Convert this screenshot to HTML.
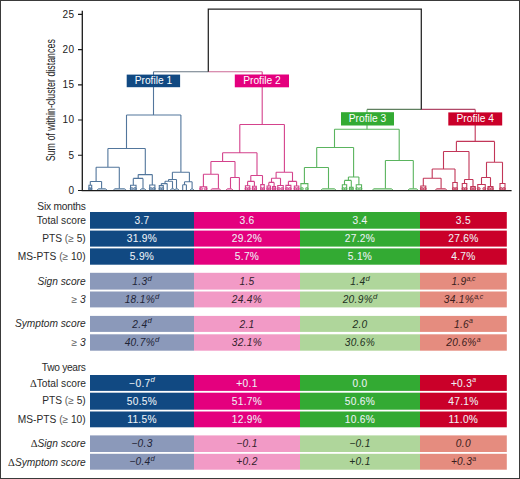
<!DOCTYPE html>
<html><head><meta charset="utf-8"><style>
html,body{margin:0;padding:0;background:#fff;width:520px;height:479px;overflow:hidden}
svg{display:block}
</style></head><body>
<svg width="520" height="479" viewBox="0 0 520 479" font-family="'Liberation Sans', sans-serif">
<rect x="0" y="0" width="520" height="479" fill="#fff"/>
<ellipse cx="89.51" cy="188.80" rx="0.87" ry="1.3" fill="#52769c" fill-opacity="0.55" stroke="#52769c" stroke-width="0.7"/><ellipse cx="91.09" cy="188.80" rx="0.87" ry="1.3" fill="#52769c" fill-opacity="0.55" stroke="#52769c" stroke-width="0.7"/><path d="M97 190.0L98.60 188.5H105.40L107 190.0Z" fill="#52769c" fill-opacity="0.2" stroke="#52769c" stroke-width="0.8" stroke-opacity="0.9"/><path d="M113.4 190.0L115.00 188.5H124.50L126.1 190.0Z" fill="#52769c" fill-opacity="0.2" stroke="#52769c" stroke-width="0.8" stroke-opacity="0.9"/><ellipse cx="131.60" cy="188.80" rx="1.50" ry="1.3" fill="#52769c" fill-opacity="0.55" stroke="#52769c" stroke-width="0.7"/><ellipse cx="135.00" cy="188.80" rx="1.50" ry="1.3" fill="#52769c" fill-opacity="0.55" stroke="#52769c" stroke-width="0.7"/><path d="M140 190.0L141.60 188.5H144.40L146 190.0Z" fill="#52769c" fill-opacity="0.2" stroke="#52769c" stroke-width="0.8" stroke-opacity="0.9"/><ellipse cx="150.75" cy="188.80" rx="1.50" ry="1.3" fill="#52769c" fill-opacity="0.55" stroke="#52769c" stroke-width="0.7"/><ellipse cx="153.85" cy="188.80" rx="1.50" ry="1.3" fill="#52769c" fill-opacity="0.55" stroke="#52769c" stroke-width="0.7"/><ellipse cx="160.18" cy="188.80" rx="1.25" ry="1.3" fill="#52769c" fill-opacity="0.55" stroke="#52769c" stroke-width="0.7"/><ellipse cx="162.43" cy="188.80" rx="1.25" ry="1.3" fill="#52769c" fill-opacity="0.55" stroke="#52769c" stroke-width="0.7"/><path d="M170.2 190.0L171.80 188.5H173.40L175 190.0Z" fill="#52769c" fill-opacity="0.2" stroke="#52769c" stroke-width="0.8" stroke-opacity="0.9"/><path d="M174.5 190.0L176.10 188.5H177.40L179 190.0Z" fill="#52769c" fill-opacity="0.2" stroke="#52769c" stroke-width="0.8" stroke-opacity="0.9"/><path d="M190 190.0L191.60 188.5H192.40L194 190.0Z" fill="#52769c" fill-opacity="0.2" stroke="#52769c" stroke-width="0.8" stroke-opacity="0.9"/><ellipse cx="201.15" cy="188.80" rx="1.50" ry="1.3" fill="#d4428c" fill-opacity="0.55" stroke="#d4428c" stroke-width="0.7"/><ellipse cx="205.65" cy="188.80" rx="1.50" ry="1.3" fill="#d4428c" fill-opacity="0.55" stroke="#d4428c" stroke-width="0.7"/><path d="M210.6 190.0L212.20 188.5H219.10L220.7 190.0Z" fill="#d4428c" fill-opacity="0.2" stroke="#d4428c" stroke-width="0.8" stroke-opacity="0.9"/><path d="M226 190.0L227.60 188.5H231.40L233 190.0Z" fill="#d4428c" fill-opacity="0.2" stroke="#d4428c" stroke-width="0.8" stroke-opacity="0.9"/><ellipse cx="246.36" cy="188.80" rx="1.38" ry="1.3" fill="#d4428c" fill-opacity="0.55" stroke="#d4428c" stroke-width="0.7"/><ellipse cx="248.84" cy="188.80" rx="1.38" ry="1.3" fill="#d4428c" fill-opacity="0.55" stroke="#d4428c" stroke-width="0.7"/><ellipse cx="253.33" cy="188.80" rx="1.19" ry="1.3" fill="#d4428c" fill-opacity="0.55" stroke="#d4428c" stroke-width="0.7"/><ellipse cx="255.47" cy="188.80" rx="1.19" ry="1.3" fill="#d4428c" fill-opacity="0.55" stroke="#d4428c" stroke-width="0.7"/><ellipse cx="261.52" cy="188.80" rx="1.09" ry="1.3" fill="#d4428c" fill-opacity="0.55" stroke="#d4428c" stroke-width="0.7"/><ellipse cx="263.48" cy="188.80" rx="1.09" ry="1.3" fill="#d4428c" fill-opacity="0.55" stroke="#d4428c" stroke-width="0.7"/><ellipse cx="267.82" cy="188.80" rx="1.09" ry="1.3" fill="#d4428c" fill-opacity="0.55" stroke="#d4428c" stroke-width="0.7"/><ellipse cx="269.78" cy="188.80" rx="1.09" ry="1.3" fill="#d4428c" fill-opacity="0.55" stroke="#d4428c" stroke-width="0.7"/><ellipse cx="273.26" cy="188.80" rx="0.94" ry="1.3" fill="#d4428c" fill-opacity="0.55" stroke="#d4428c" stroke-width="0.7"/><ellipse cx="274.94" cy="188.80" rx="0.94" ry="1.3" fill="#d4428c" fill-opacity="0.55" stroke="#d4428c" stroke-width="0.7"/><ellipse cx="278.80" cy="188.80" rx="1.50" ry="1.3" fill="#d4428c" fill-opacity="0.55" stroke="#d4428c" stroke-width="0.7"/><ellipse cx="282.20" cy="188.80" rx="1.50" ry="1.3" fill="#d4428c" fill-opacity="0.55" stroke="#d4428c" stroke-width="0.7"/><ellipse cx="286.95" cy="188.80" rx="1.50" ry="1.3" fill="#d4428c" fill-opacity="0.55" stroke="#d4428c" stroke-width="0.7"/><ellipse cx="289.85" cy="188.80" rx="1.50" ry="1.3" fill="#d4428c" fill-opacity="0.55" stroke="#d4428c" stroke-width="0.7"/><ellipse cx="295.33" cy="188.80" rx="1.41" ry="1.3" fill="#d4428c" fill-opacity="0.55" stroke="#d4428c" stroke-width="0.7"/><ellipse cx="297.87" cy="188.80" rx="1.41" ry="1.3" fill="#d4428c" fill-opacity="0.55" stroke="#d4428c" stroke-width="0.7"/><ellipse cx="301.95" cy="188.80" rx="1.50" ry="1.3" fill="#5ab45e" fill-opacity="0.55" stroke="#5ab45e" stroke-width="0.7"/><ellipse cx="306.85" cy="188.80" rx="1.50" ry="1.3" fill="#5ab45e" fill-opacity="0.55" stroke="#5ab45e" stroke-width="0.7"/><path d="M321 190.0L322.60 188.5H334.40L336 190.0Z" fill="#5ab45e" fill-opacity="0.2" stroke="#5ab45e" stroke-width="0.8" stroke-opacity="0.9"/><ellipse cx="343.29" cy="188.80" rx="1.34" ry="1.3" fill="#5ab45e" fill-opacity="0.55" stroke="#5ab45e" stroke-width="0.7"/><ellipse cx="345.71" cy="188.80" rx="1.34" ry="1.3" fill="#5ab45e" fill-opacity="0.55" stroke="#5ab45e" stroke-width="0.7"/><ellipse cx="350.32" cy="188.80" rx="1.09" ry="1.3" fill="#5ab45e" fill-opacity="0.55" stroke="#5ab45e" stroke-width="0.7"/><ellipse cx="352.28" cy="188.80" rx="1.09" ry="1.3" fill="#5ab45e" fill-opacity="0.55" stroke="#5ab45e" stroke-width="0.7"/><ellipse cx="357.30" cy="188.80" rx="1.50" ry="1.3" fill="#5ab45e" fill-opacity="0.55" stroke="#5ab45e" stroke-width="0.7"/><ellipse cx="360.50" cy="188.80" rx="1.50" ry="1.3" fill="#5ab45e" fill-opacity="0.55" stroke="#5ab45e" stroke-width="0.7"/><path d="M372.4 190.0L374.00 188.5H391.40L393 190.0Z" fill="#5ab45e" fill-opacity="0.2" stroke="#5ab45e" stroke-width="0.8" stroke-opacity="0.9"/><path d="M408 190.0L409.60 188.5H416.40L418 190.0Z" fill="#5ab45e" fill-opacity="0.2" stroke="#5ab45e" stroke-width="0.8" stroke-opacity="0.9"/><ellipse cx="421.85" cy="188.80" rx="1.50" ry="1.3" fill="#c23658" fill-opacity="0.55" stroke="#c23658" stroke-width="0.7"/><ellipse cx="424.75" cy="188.80" rx="1.50" ry="1.3" fill="#c23658" fill-opacity="0.55" stroke="#c23658" stroke-width="0.7"/><path d="M435.3 190.0L436.90 188.5H445.20L446.8 190.0Z" fill="#c23658" fill-opacity="0.2" stroke="#c23658" stroke-width="0.8" stroke-opacity="0.9"/><ellipse cx="453.76" cy="188.80" rx="1.38" ry="1.3" fill="#c23658" fill-opacity="0.55" stroke="#c23658" stroke-width="0.7"/><ellipse cx="456.24" cy="188.80" rx="1.38" ry="1.3" fill="#c23658" fill-opacity="0.55" stroke="#c23658" stroke-width="0.7"/><ellipse cx="463.23" cy="188.80" rx="1.41" ry="1.3" fill="#c23658" fill-opacity="0.55" stroke="#c23658" stroke-width="0.7"/><ellipse cx="465.77" cy="188.80" rx="1.41" ry="1.3" fill="#c23658" fill-opacity="0.55" stroke="#c23658" stroke-width="0.7"/><ellipse cx="471.73" cy="188.80" rx="1.41" ry="1.3" fill="#c23658" fill-opacity="0.55" stroke="#c23658" stroke-width="0.7"/><ellipse cx="474.27" cy="188.80" rx="1.41" ry="1.3" fill="#c23658" fill-opacity="0.55" stroke="#c23658" stroke-width="0.7"/><ellipse cx="478.80" cy="188.80" rx="1.50" ry="1.3" fill="#c23658" fill-opacity="0.55" stroke="#c23658" stroke-width="0.7"/><ellipse cx="484.20" cy="188.80" rx="1.50" ry="1.3" fill="#c23658" fill-opacity="0.55" stroke="#c23658" stroke-width="0.7"/><ellipse cx="489.05" cy="188.80" rx="1.50" ry="1.3" fill="#c23658" fill-opacity="0.55" stroke="#c23658" stroke-width="0.7"/><ellipse cx="491.95" cy="188.80" rx="1.50" ry="1.3" fill="#c23658" fill-opacity="0.55" stroke="#c23658" stroke-width="0.7"/><ellipse cx="501.05" cy="188.80" rx="1.50" ry="1.3" fill="#c23658" fill-opacity="0.55" stroke="#c23658" stroke-width="0.7"/><ellipse cx="503.95" cy="188.80" rx="1.50" ry="1.3" fill="#c23658" fill-opacity="0.55" stroke="#c23658" stroke-width="0.7"/><path d="M126.5 115H180.9M126.5 115V148.5M107.9 148.5H145.3M107.9 148.5V167.3M96.1 167.3H119.3M96.1 167.3V181.5M90.3 181.5H101.6M90.3 181.5V185.2M88.90 190.0V185.2H91.70V190.0M101.6 181.5V188.5M119.3 167.3V188.5M145.3 148.5V174.6M138.2 174.6H152.3M138.2 174.6V178.4M133.3 178.4H143M133.3 178.4V185.2M130.55 190.0V185.2H136.05V190.0M143 178.4V188.5M152.3 174.6V185M149.70 190.0V185H154.90V190.0M180.9 115V172.3M172.4 172.3H189.4M172.4 172.3V179.5M168.5 179.5H176.5M168.5 179.5V181.3M165 181.3H172.5M165 181.3V183.6M161.3 183.6H167.2M161.3 183.6V185.6M159.30 190.0V185.6H163.30V190.0M167.2 183.6V190.0M172.5 181.3V188.5M176.5 179.5V188.5M189.4 172.3V181.8M184.5 181.8H192.1M184.5 181.8V184.8M182.7 184.8H186.4M182.7 184.8V190.0M186.4 184.8V190.0M192.1 181.8V188.5" stroke="#52769c" stroke-width="1.1" fill="none"/><path d="M239.8 124.5H284.4M239.8 124.5V152.7M222.6 152.7H257M222.6 152.7V161.5M210.9 161.5H235M210.9 161.5V174.2M203.4 174.2H218.4M203.4 174.2V186.7M200.10 190.0V186.7H206.70V190.0M218.4 174.2V188.5M235 161.5V177.5M230.5 177.5H239.4M230.5 177.5V188.5M239.4 177.5V190.0M257 152.7V175.5M250.8 175.5H262.5M250.8 175.5V181.4M247.6 181.4H254.4M247.6 181.4V185.8M245.40 190.0V185.8H249.80V190.0M254.4 181.4V186.3M252.50 190.0V186.3H256.30V190.0M262.5 175.5V184.6M260.75 190.0V184.6H264.25V190.0M284.4 124.5V172.3M276.1 172.3H292.5M276.1 172.3V178.3M271.5 178.3H280.5M271.5 178.3V182.4M268.8 182.4H274.1M268.8 182.4V186M267.05 190.0V186H270.55V190.0M274.1 182.4V186.5M272.60 190.0V186.5H275.60V190.0M280.5 178.3V185.5M277.75 190.0V185.5H283.25V190.0M292.5 172.3V181.4M288.4 181.4H296.6M288.4 181.4V185.4M285.90 190.0V185.4H290.90V190.0M296.6 181.4V186M294.35 190.0V186H298.85V190.0" stroke="#d4428c" stroke-width="1.1" fill="none"/><path d="M334.5 129.3H399.2M334.5 129.3V147.5M316.7 147.5H353.6M316.7 147.5V167.5M304.4 167.5H328.5M304.4 167.5V183.6M300.90 190.0V183.6H307.90V190.0M328.5 167.5V188.5M353.6 147.5V177M348.4 177H358.9M348.4 177V180.4M344.5 180.4H351.3M344.5 180.4V184.7M342.35 190.0V184.7H346.65V190.0M351.3 180.4V187.2M349.55 190.0V187.2H353.05V190.0M358.9 177V184.7M356.25 190.0V184.7H361.55V190.0M399.2 129.3V160.5M385.4 160.5H413.3M385.4 160.5V188.5M413.3 160.5V188.5" stroke="#5ab45e" stroke-width="1.1" fill="none"/><path d="M456.4 141.4H494.5M456.4 141.4V151.5M443.5 151.5H469M443.5 151.5V169M432.2 169H455M432.2 169V178.3M423.3 178.3H441.1M423.3 178.3V186M420.80 190.0V186H425.80V190.0M441.1 178.3V188.5M455 169V182.5M452.80 190.0V182.5H457.20V190.0M469 151.5V179.5M464.5 179.5H473M464.5 179.5V183.5M462.25 190.0V183.5H466.75V190.0M473 179.5V186.5M470.75 190.0V186.5H475.25V190.0M494.5 141.4V162.3M486.5 162.3H502.5M486.5 162.3V177.5M481.5 177.5H490.5M481.5 177.5V184.5M477.75 190.0V184.5H485.25V190.0M490.5 177.5V186.5M488.00 190.0V186.5H493.00V190.0M502.5 162.3V183.5M500.00 190.0V183.5H505.00V190.0" stroke="#c23658" stroke-width="1.1" fill="none"/><path d="M153.5 71.7H208.3" stroke="#6a7784" stroke-width="1.1" fill="none"/><path d="M153.5 71.7V115" stroke="#52769c" stroke-width="1.1" fill="none"/><path d="M208.3 71.7H262.2" stroke="#cc6a96" stroke-width="1.1" fill="none"/><path d="M262.2 71.7V124.5" stroke="#d4428c" stroke-width="1.1" fill="none"/><path d="M367 109.4H421.3" stroke="#5f7f5f" stroke-width="1.1" fill="none"/><path d="M367 109.4V129.3" stroke="#5ab45e" stroke-width="1.1" fill="none"/><path d="M421.3 109.4H475.2" stroke="#b04868" stroke-width="1.1" fill="none"/><path d="M475.2 109.4V141.4" stroke="#c23658" stroke-width="1.1" fill="none"/><path d="M208.3 71.7V9.1H421.3V109.4" stroke="#222" stroke-width="1.25" fill="none"/>
<path d="M82.3 10.8V190.6H511.6" stroke="#1a1a1a" stroke-width="1.3" fill="none"/><text x="74.5" y="193.80" text-anchor="end" font-size="10" letter-spacing="0.4" fill="#222">0</text><text x="74.5" y="158.58" text-anchor="end" font-size="10" letter-spacing="0.4" fill="#222">5</text><text x="74.5" y="123.36" text-anchor="end" font-size="10" letter-spacing="0.4" fill="#222">10</text><text x="74.5" y="88.14" text-anchor="end" font-size="10" letter-spacing="0.4" fill="#222">15</text><text x="74.5" y="52.92" text-anchor="end" font-size="10" letter-spacing="0.4" fill="#222">20</text><text x="74.5" y="17.70" text-anchor="end" font-size="10" letter-spacing="0.4" fill="#222">25</text><path d="M78 190.50H82.3M78 155.28H82.3M78 120.06H82.3M78 84.84H82.3M78 49.62H82.3M78 14.40H82.3" stroke="#1a1a1a" stroke-width="1.1" fill="none"/><text transform="translate(54.9 161.3) rotate(-90) scale(0.7156 1)" font-size="12.4" fill="#222">Sum of within-cluster distances</text>
<rect x="126.7" y="74.6" width="53.40" height="12.60" fill="#114982"/><text x="153.40" y="84.15" text-anchor="middle" fill="#fff" font-size="10.2">Profile 1</text><rect x="234.8" y="74.5" width="54.20" height="12.80" fill="#e4007e"/><text x="261.90" y="84.25" text-anchor="middle" fill="#fff" font-size="10.2">Profile 2</text><rect x="341" y="112.2" width="53.00" height="13.30" fill="#33aa33"/><text x="367.50" y="122.45" text-anchor="middle" fill="#fff" font-size="10.2">Profile 3</text><rect x="448.3" y="112.4" width="53.90" height="13.10" fill="#ca0029"/><text x="475.25" y="122.45" text-anchor="middle" fill="#fff" font-size="10.2">Profile 4</text>
<rect x="90" y="212" width="104.00" height="16.70" fill="#114982"/><text x="142.00" y="223.95" text-anchor="middle" font-size="10.2" letter-spacing="0.3" fill="#eef2f6" stroke="#eef2f6" stroke-width="0.06">3.7</text><rect x="194" y="212" width="106.00" height="16.70" fill="#e4007e"/><text x="247.00" y="223.95" text-anchor="middle" font-size="10.2" letter-spacing="0.3" fill="#eef2f6" stroke="#eef2f6" stroke-width="0.06">3.6</text><rect x="300" y="212" width="120.00" height="16.70" fill="#33aa33"/><text x="360.00" y="223.95" text-anchor="middle" font-size="10.2" letter-spacing="0.3" fill="#eef2f6" stroke="#eef2f6" stroke-width="0.06">3.4</text><rect x="420" y="212" width="86.80" height="16.70" fill="#ca0029"/><text x="463.40" y="223.95" text-anchor="middle" font-size="10.2" letter-spacing="0.3" fill="#eef2f6" stroke="#eef2f6" stroke-width="0.06">3.5</text><rect x="90" y="230.6" width="104.00" height="16.00" fill="#114982"/><text x="142.00" y="242.20" text-anchor="middle" font-size="10.2" letter-spacing="0.3" fill="#eef2f6" stroke="#eef2f6" stroke-width="0.06">31.9%</text><rect x="194" y="230.6" width="106.00" height="16.00" fill="#e4007e"/><text x="247.00" y="242.20" text-anchor="middle" font-size="10.2" letter-spacing="0.3" fill="#eef2f6" stroke="#eef2f6" stroke-width="0.06">29.2%</text><rect x="300" y="230.6" width="120.00" height="16.00" fill="#33aa33"/><text x="360.00" y="242.20" text-anchor="middle" font-size="10.2" letter-spacing="0.3" fill="#eef2f6" stroke="#eef2f6" stroke-width="0.06">27.2%</text><rect x="420" y="230.6" width="86.80" height="16.00" fill="#ca0029"/><text x="463.40" y="242.20" text-anchor="middle" font-size="10.2" letter-spacing="0.3" fill="#eef2f6" stroke="#eef2f6" stroke-width="0.06">27.6%</text><rect x="90" y="248.4" width="104.00" height="16.30" fill="#114982"/><text x="142.00" y="260.15" text-anchor="middle" font-size="10.2" letter-spacing="0.3" fill="#eef2f6" stroke="#eef2f6" stroke-width="0.06">5.9%</text><rect x="194" y="248.4" width="106.00" height="16.30" fill="#e4007e"/><text x="247.00" y="260.15" text-anchor="middle" font-size="10.2" letter-spacing="0.3" fill="#eef2f6" stroke="#eef2f6" stroke-width="0.06">5.7%</text><rect x="300" y="248.4" width="120.00" height="16.30" fill="#33aa33"/><text x="360.00" y="260.15" text-anchor="middle" font-size="10.2" letter-spacing="0.3" fill="#eef2f6" stroke="#eef2f6" stroke-width="0.06">5.1%</text><rect x="420" y="248.4" width="86.80" height="16.30" fill="#ca0029"/><text x="463.40" y="260.15" text-anchor="middle" font-size="10.2" letter-spacing="0.3" fill="#eef2f6" stroke="#eef2f6" stroke-width="0.06">4.7%</text><rect x="90" y="272.8" width="104.00" height="16.80" fill="#8b99ba"/><text x="142.00" y="284.80" text-anchor="middle" font-size="10.2" letter-spacing="0.3" fill="#1f2436" stroke="#1f2436" stroke-width="0" font-style="italic">1.3<tspan font-size="7.7" dy="-4.2" font-style="italic" letter-spacing="0" stroke-width="0">d</tspan></text><rect x="194" y="272.8" width="106.00" height="16.80" fill="#f29ac6"/><text x="247.00" y="284.80" text-anchor="middle" font-size="10.2" letter-spacing="0.3" fill="#33222c" stroke="#33222c" stroke-width="0" font-style="italic">1.5</text><rect x="300" y="272.8" width="120.00" height="16.80" fill="#afd69b"/><text x="360.00" y="284.80" text-anchor="middle" font-size="10.2" letter-spacing="0.3" fill="#223022" stroke="#223022" stroke-width="0" font-style="italic">1.4<tspan font-size="7.7" dy="-4.2" font-style="italic" letter-spacing="0" stroke-width="0">d</tspan></text><rect x="420" y="272.8" width="86.80" height="16.80" fill="#e58c7f"/><text x="463.40" y="284.80" text-anchor="middle" font-size="10.2" letter-spacing="0.3" fill="#3a1c1c" stroke="#3a1c1c" stroke-width="0" font-style="italic">1.9<tspan font-size="6.9" dy="-4.3" font-style="italic" letter-spacing="-0.1" stroke-width="0">a,c</tspan></text><rect x="90" y="291.5" width="104.00" height="15.90" fill="#8b99ba"/><text x="142.00" y="303.05" text-anchor="middle" font-size="10.2" letter-spacing="0.3" fill="#1f2436" stroke="#1f2436" stroke-width="0" font-style="italic">18.1%<tspan font-size="7.7" dy="-4.2" font-style="italic" letter-spacing="0" stroke-width="0">d</tspan></text><rect x="194" y="291.5" width="106.00" height="15.90" fill="#f29ac6"/><text x="247.00" y="303.05" text-anchor="middle" font-size="10.2" letter-spacing="0.3" fill="#33222c" stroke="#33222c" stroke-width="0" font-style="italic">24.4%</text><rect x="300" y="291.5" width="120.00" height="15.90" fill="#afd69b"/><text x="360.00" y="303.05" text-anchor="middle" font-size="10.2" letter-spacing="0.3" fill="#223022" stroke="#223022" stroke-width="0" font-style="italic">20.9%<tspan font-size="7.7" dy="-4.2" font-style="italic" letter-spacing="0" stroke-width="0">d</tspan></text><rect x="420" y="291.5" width="86.80" height="15.90" fill="#e58c7f"/><text x="463.40" y="303.05" text-anchor="middle" font-size="10.2" letter-spacing="0.3" fill="#3a1c1c" stroke="#3a1c1c" stroke-width="0" font-style="italic">34.1%<tspan font-size="6.9" dy="-4.3" font-style="italic" letter-spacing="-0.1" stroke-width="0">a,c</tspan></text><rect x="90" y="315.9" width="104.00" height="16.00" fill="#8b99ba"/><text x="142.00" y="327.50" text-anchor="middle" font-size="10.2" letter-spacing="0.3" fill="#1f2436" stroke="#1f2436" stroke-width="0" font-style="italic">2.4<tspan font-size="7.7" dy="-4.2" font-style="italic" letter-spacing="0" stroke-width="0">d</tspan></text><rect x="194" y="315.9" width="106.00" height="16.00" fill="#f29ac6"/><text x="247.00" y="327.50" text-anchor="middle" font-size="10.2" letter-spacing="0.3" fill="#33222c" stroke="#33222c" stroke-width="0" font-style="italic">2.1</text><rect x="300" y="315.9" width="120.00" height="16.00" fill="#afd69b"/><text x="360.00" y="327.50" text-anchor="middle" font-size="10.2" letter-spacing="0.3" fill="#223022" stroke="#223022" stroke-width="0" font-style="italic">2.0</text><rect x="420" y="315.9" width="86.80" height="16.00" fill="#e58c7f"/><text x="463.40" y="327.50" text-anchor="middle" font-size="10.2" letter-spacing="0.3" fill="#3a1c1c" stroke="#3a1c1c" stroke-width="0" font-style="italic">1.6<tspan font-size="6.9" dy="-4.3" font-style="italic" letter-spacing="-0.1" stroke-width="0">a</tspan></text><rect x="90" y="334.3" width="104.00" height="16.40" fill="#8b99ba"/><text x="142.00" y="346.10" text-anchor="middle" font-size="10.2" letter-spacing="0.3" fill="#1f2436" stroke="#1f2436" stroke-width="0" font-style="italic">40.7%<tspan font-size="7.7" dy="-4.2" font-style="italic" letter-spacing="0" stroke-width="0">d</tspan></text><rect x="194" y="334.3" width="106.00" height="16.40" fill="#f29ac6"/><text x="247.00" y="346.10" text-anchor="middle" font-size="10.2" letter-spacing="0.3" fill="#33222c" stroke="#33222c" stroke-width="0" font-style="italic">32.1%</text><rect x="300" y="334.3" width="120.00" height="16.40" fill="#afd69b"/><text x="360.00" y="346.10" text-anchor="middle" font-size="10.2" letter-spacing="0.3" fill="#223022" stroke="#223022" stroke-width="0" font-style="italic">30.6%</text><rect x="420" y="334.3" width="86.80" height="16.40" fill="#e58c7f"/><text x="463.40" y="346.10" text-anchor="middle" font-size="10.2" letter-spacing="0.3" fill="#3a1c1c" stroke="#3a1c1c" stroke-width="0" font-style="italic">20.6%<tspan font-size="6.9" dy="-4.3" font-style="italic" letter-spacing="-0.1" stroke-width="0">a</tspan></text><rect x="90" y="375.0" width="104.00" height="15.90" fill="#114982"/><text x="142.00" y="386.55" text-anchor="middle" font-size="10.2" letter-spacing="0.3" fill="#eef2f6" stroke="#eef2f6" stroke-width="0.06">−0.7<tspan font-size="7.7" dy="-4.2" font-style="italic" letter-spacing="0" stroke-width="0">d</tspan></text><rect x="194" y="375.0" width="106.00" height="15.90" fill="#e4007e"/><text x="247.00" y="386.55" text-anchor="middle" font-size="10.2" letter-spacing="0.3" fill="#eef2f6" stroke="#eef2f6" stroke-width="0.06">+0.1</text><rect x="300" y="375.0" width="120.00" height="15.90" fill="#33aa33"/><text x="360.00" y="386.55" text-anchor="middle" font-size="10.2" letter-spacing="0.3" fill="#eef2f6" stroke="#eef2f6" stroke-width="0.06">0.0</text><rect x="420" y="375.0" width="86.80" height="15.90" fill="#ca0029"/><text x="463.40" y="386.55" text-anchor="middle" font-size="10.2" letter-spacing="0.3" fill="#eef2f6" stroke="#eef2f6" stroke-width="0.06">+0.3<tspan font-size="6.9" dy="-4.3" font-style="italic" letter-spacing="-0.1" stroke-width="0">a</tspan></text><rect x="90" y="392.7" width="104.00" height="17.00" fill="#114982"/><text x="142.00" y="404.80" text-anchor="middle" font-size="10.2" letter-spacing="0.3" fill="#eef2f6" stroke="#eef2f6" stroke-width="0.06">50.5%</text><rect x="194" y="392.7" width="106.00" height="17.00" fill="#e4007e"/><text x="247.00" y="404.80" text-anchor="middle" font-size="10.2" letter-spacing="0.3" fill="#eef2f6" stroke="#eef2f6" stroke-width="0.06">51.7%</text><rect x="300" y="392.7" width="120.00" height="17.00" fill="#33aa33"/><text x="360.00" y="404.80" text-anchor="middle" font-size="10.2" letter-spacing="0.3" fill="#eef2f6" stroke="#eef2f6" stroke-width="0.06">50.6%</text><rect x="420" y="392.7" width="86.80" height="17.00" fill="#ca0029"/><text x="463.40" y="404.80" text-anchor="middle" font-size="10.2" letter-spacing="0.3" fill="#eef2f6" stroke="#eef2f6" stroke-width="0.06">47.1%</text><rect x="90" y="411.5" width="104.00" height="15.80" fill="#114982"/><text x="142.00" y="423.00" text-anchor="middle" font-size="10.2" letter-spacing="0.3" fill="#eef2f6" stroke="#eef2f6" stroke-width="0.06">11.5%</text><rect x="194" y="411.5" width="106.00" height="15.80" fill="#e4007e"/><text x="247.00" y="423.00" text-anchor="middle" font-size="10.2" letter-spacing="0.3" fill="#eef2f6" stroke="#eef2f6" stroke-width="0.06">12.9%</text><rect x="300" y="411.5" width="120.00" height="15.80" fill="#33aa33"/><text x="360.00" y="423.00" text-anchor="middle" font-size="10.2" letter-spacing="0.3" fill="#eef2f6" stroke="#eef2f6" stroke-width="0.06">10.6%</text><rect x="420" y="411.5" width="86.80" height="15.80" fill="#ca0029"/><text x="463.40" y="423.00" text-anchor="middle" font-size="10.2" letter-spacing="0.3" fill="#eef2f6" stroke="#eef2f6" stroke-width="0.06">11.0%</text><rect x="90" y="435.4" width="104.00" height="16.60" fill="#8b99ba"/><text x="142.00" y="447.30" text-anchor="middle" font-size="10.2" letter-spacing="0.3" fill="#1f2436" stroke="#1f2436" stroke-width="0" font-style="italic">−0.3</text><rect x="194" y="435.4" width="106.00" height="16.60" fill="#f29ac6"/><text x="247.00" y="447.30" text-anchor="middle" font-size="10.2" letter-spacing="0.3" fill="#33222c" stroke="#33222c" stroke-width="0" font-style="italic">−0.1</text><rect x="300" y="435.4" width="120.00" height="16.60" fill="#afd69b"/><text x="360.00" y="447.30" text-anchor="middle" font-size="10.2" letter-spacing="0.3" fill="#223022" stroke="#223022" stroke-width="0" font-style="italic">−0.1</text><rect x="420" y="435.4" width="86.80" height="16.60" fill="#e58c7f"/><text x="463.40" y="447.30" text-anchor="middle" font-size="10.2" letter-spacing="0.3" fill="#3a1c1c" stroke="#3a1c1c" stroke-width="0" font-style="italic">0.0</text><rect x="90" y="453.8" width="104.00" height="15.90" fill="#8b99ba"/><text x="142.00" y="465.35" text-anchor="middle" font-size="10.2" letter-spacing="0.3" fill="#1f2436" stroke="#1f2436" stroke-width="0" font-style="italic">−0.4<tspan font-size="7.7" dy="-4.2" font-style="italic" letter-spacing="0" stroke-width="0">d</tspan></text><rect x="194" y="453.8" width="106.00" height="15.90" fill="#f29ac6"/><text x="247.00" y="465.35" text-anchor="middle" font-size="10.2" letter-spacing="0.3" fill="#33222c" stroke="#33222c" stroke-width="0" font-style="italic">+0.2</text><rect x="300" y="453.8" width="120.00" height="15.90" fill="#afd69b"/><text x="360.00" y="465.35" text-anchor="middle" font-size="10.2" letter-spacing="0.3" fill="#223022" stroke="#223022" stroke-width="0" font-style="italic">+0.1</text><rect x="420" y="453.8" width="86.80" height="15.90" fill="#e58c7f"/><text x="463.40" y="465.35" text-anchor="middle" font-size="10.2" letter-spacing="0.3" fill="#3a1c1c" stroke="#3a1c1c" stroke-width="0" font-style="italic">+0.3<tspan font-size="6.9" dy="-4.3" font-style="italic" letter-spacing="-0.1" stroke-width="0">a</tspan></text>
<text x="85.7" y="210.0" text-anchor="end" font-size="10.2" fill="#2a2a2a"><tspan letter-spacing="-0.2">Six months</tspan></text><text x="86.0" y="223.9" text-anchor="end" font-size="10.2" fill="#2a2a2a">Total score</text><text x="85.7" y="241.8" text-anchor="end" font-size="10.2" fill="#2a2a2a">PTS <tspan fill="#5c5c5c">(≥</tspan> 5)</text><text x="85.7" y="260.0" text-anchor="end" font-size="10.2" fill="#2a2a2a">MS-PTS <tspan fill="#5c5c5c">(≥</tspan> 10)</text><text x="85.7" y="284.7" text-anchor="end" font-size="10.2" fill="#2a2a2a"><tspan font-style="italic">Sign score</tspan></text><text x="85.7" y="303.1" text-anchor="end" font-size="10.2" fill="#2a2a2a"><tspan fill="#5c5c5c">≥</tspan> <tspan font-style="italic">3</tspan></text><text x="85.7" y="327.3" text-anchor="end" font-size="10.2" fill="#2a2a2a"><tspan font-style="italic">Symptom score</tspan></text><text x="85.7" y="345.7" text-anchor="end" font-size="10.2" fill="#2a2a2a"><tspan fill="#5c5c5c">≥</tspan> <tspan font-style="italic">3</tspan></text><text x="85.7" y="370.5" text-anchor="end" font-size="10.2" fill="#2a2a2a"><tspan letter-spacing="-0.28">Two years</tspan></text><text x="86.0" y="386.7" text-anchor="end" font-size="10.2" fill="#2a2a2a"><tspan font-family="Liberation Serif" font-size="10.6">Δ</tspan>Total score</text><text x="85.7" y="404.0" text-anchor="end" font-size="10.2" fill="#2a2a2a">PTS <tspan fill="#5c5c5c">(≥</tspan> 5)</text><text x="85.7" y="422.5" text-anchor="end" font-size="10.2" fill="#2a2a2a">MS-PTS <tspan fill="#5c5c5c">(≥</tspan> 10)</text><text x="85.7" y="446.8" text-anchor="end" font-size="10.2" fill="#2a2a2a"><tspan font-family="Liberation Serif" font-size="10.6">Δ</tspan><tspan font-style="italic">Sign score</tspan></text><text x="85.7" y="465.6" text-anchor="end" font-size="10.2" fill="#2a2a2a"><tspan font-family="Liberation Serif" font-size="10.6">Δ</tspan><tspan font-style="italic">Symptom score</tspan></text>
<rect x="0.5" y="0.5" width="519" height="478" fill="none" stroke="#3a3a3a" stroke-width="1"/>
</svg>
</body></html>
